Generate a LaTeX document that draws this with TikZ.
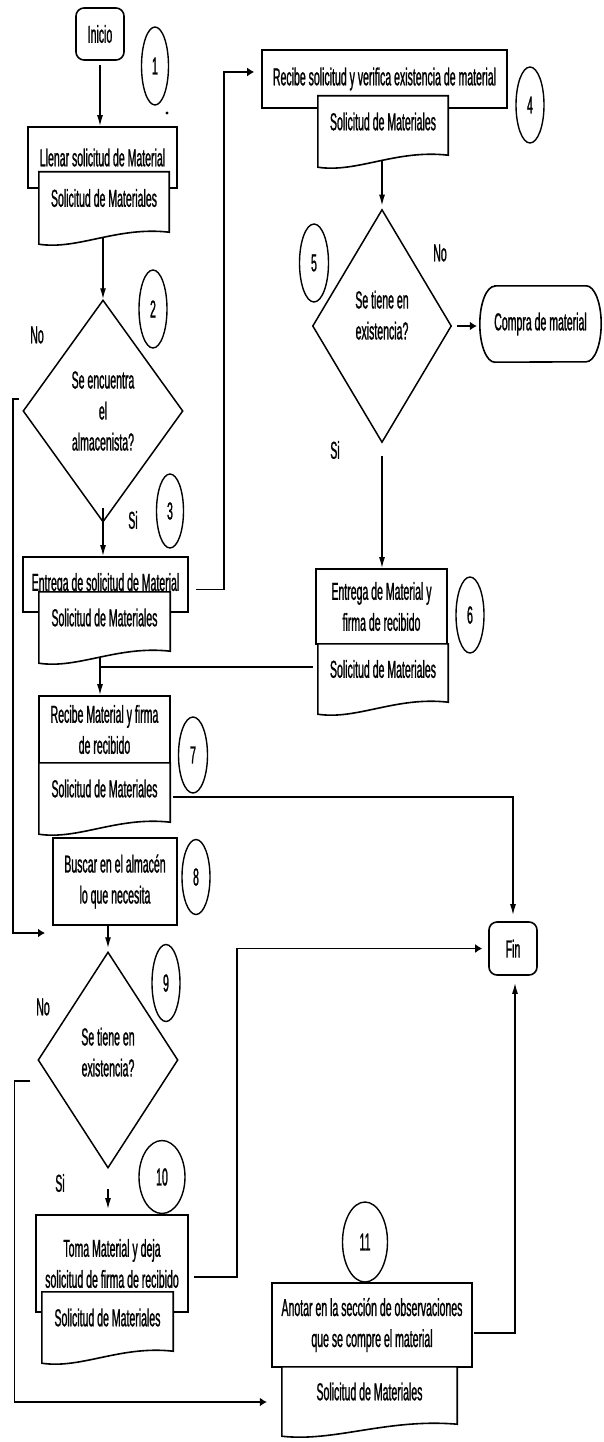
\documentclass[tikz,border=0pt]{standalone}
\usepackage{fontspec}
\setmainfont{Liberation Sans}[FakeStretch=0.43,FakeBold=1]
\usetikzlibrary{arrows.meta,shapes.geometric,calc}
\tikzset{
  base/.style={font=\fontsize{24.5}{31}\selectfont, align=center, inner sep=1pt},
  proc/.style={base, draw, fill=white, line width=1.6pt},
  term/.style={base, draw, rounded corners=8pt, line width=1.6pt},
  dec/.style={base, diamond, draw, line width=1.5pt, inner sep=0pt},
  num/.style={base, ellipse, draw, line width=1.4pt, inner sep=0pt},
  docn/.style={base, inner sep=0pt},
  docline/.style={draw, fill=white, line width=1.6pt},
  shapeline/.style={draw, line width=1.6pt},
  lbl/.style={base},
  conn/.style={line width=1.4pt},
  varr/.style={conn, -{Latex[length=11pt,width=6pt]}},
  harr/.style={conn, -{Latex[length=7pt,width=9pt]}}
}
\newcommand\docpath[1]{\draw[docline] (#1.north west) -- (#1.north east) -- ([yshift=6pt]#1.south east) .. controls ($(#1.south west)!0.6!(#1.south east)+(0pt,12pt)$) and ($(#1.south west)!0.3!(#1.south east)+(0pt,-12pt)$) .. ([yshift=-6pt]#1.south west) -- cycle;}
\begin{document}
\begin{tikzpicture}[x=1pt,y=-1pt]
\useasboundingbox (0,0) rectangle (603,1442);
\fill[white] (0,0) rectangle (603,1442);

% ---------- left column top ----------
\node[term, minimum width=48pt, minimum height=52pt] (inicio) at (100,34) {Inicio};
\node[num, minimum width=27pt, minimum height=78pt] (c1) at (155,66) {1};
\fill (167,113) circle (1.6pt);

\node[proc, minimum width=149pt, minimum height=61pt] (llenar) at (102.5,157.5) {Llenar solicitud de Material};
\node[docn, minimum width=130pt, minimum height=66pt] (doc1) at (104,205) {};
\docpath{doc1}
\node[base] (doc1t) at ([yshift=7pt]doc1.center) {Solicitud de Materiales};

\node[dec, aspect=0.72, minimum width=160pt, minimum height=222pt] (d2) at (103,411) {Se encuentra\\el\\almacenista?};
\node[num, minimum width=28pt, minimum height=78pt] (c2) at (153,309) {2};
\node[lbl] (no2) at (37,335) {No};
\node[lbl] (si2) at (133,520) {Si};
\node[num, minimum width=27pt, minimum height=74pt] (c3) at (170,511) {3};

\node[proc, minimum width=165pt, minimum height=55pt] (entrega) at (105.5,584.5) {Entrega de solicitud de Material};
\node[docn, minimum width=131pt, minimum height=65pt] (doc3) at (104.5,624.5) {};
\docpath{doc3}
\node[base] (doc3t) at ([yshift=7pt]doc3.center) {Solicitud de Materiales};

\node[proc, minimum width=131pt, minimum height=67pt] (box7) at (104.5,729.5) {Recibe Material y firma\\de recibido};
\node[docn, minimum width=131pt, minimum height=65pt] (doc7) at (104.5,795.5) {};
\docpath{doc7}
\node[base] (doc7t) at ([yshift=7pt]doc7.center) {Solicitud de Materiales};
\node[num, minimum width=29pt, minimum height=76pt] (c7) at (193,755) {7};

\node[proc, minimum width=124pt, minimum height=87pt] (box8) at (115,881.5) {Buscar en el almac\'en\\lo que necesita};
\node[num, minimum width=28pt, minimum height=75pt] (c8) at (196,877) {8};

\node[dec, aspect=0.65, minimum width=140pt, minimum height=216pt, text depth=16pt] (d9) at (108,1060) {Se tiene en\\existencia?};
\node[num, minimum width=28pt, minimum height=77pt] (c9) at (166,983) {9};
\node[lbl] (no9) at (43,1007) {No};
\node[lbl] (si9) at (60,1183) {Si};

\node[proc, minimum width=152pt, minimum height=97pt] (box10) at (112,1263.5) {Toma Material y deja\\solicitud de firma de recibido};
\node[docn, minimum width=131pt, minimum height=65pt] (doc10) at (107.5,1324.5) {};
\docpath{doc10}
\node[base] (doc10t) at ([yshift=7pt]doc10.center) {Solicitud de Materiales};
\node[num, minimum width=46pt, minimum height=73pt] (c10) at (162,1177) {10};

% ---------- right column ----------
\node[proc, minimum width=245pt, minimum height=58pt] (box4) at (384.5,79) {Recibe solicitud y verifica existencia de material};
\node[docn, minimum width=130pt, minimum height=65pt] (doc4) at (383,128.5) {};
\docpath{doc4}
\node[base] (doc4t) at ([yshift=7pt]doc4.center) {Solicitud de Materiales};
\node[num, minimum width=28pt, minimum height=76pt] (c4) at (530,105) {4};

\node[dec, aspect=0.6, minimum width=139pt, minimum height=233pt, text depth=22pt] (d5) at (382,326) {Se tiene en\\existencia?};
\node[num, minimum width=29pt, minimum height=78pt] (c5) at (314,263) {5};
\node[lbl] (no5) at (440,253) {No};
\node[lbl] (si5) at (335,450) {Si};

\node[base, minimum width=121pt, minimum height=76pt] (compra) at (540.5,324) {Compra de material};
\draw[shapeline] ([xshift=15pt]compra.north west) -- ([xshift=-15pt]compra.north east)
  arc[start angle=90, end angle=-90, x radius=15pt, y radius=38pt]
  -- ([xshift=15pt]compra.south west)
  arc[start angle=270, end angle=90, x radius=15pt, y radius=38pt] -- cycle;

\node[proc, minimum width=131pt, minimum height=75pt] (box6) at (381.5,606.5) {Entrega de Material y\\firma de recibido};
\node[docn, minimum width=130pt, minimum height=64pt] (doc6) at (383,676) {};
\docpath{doc6}
\node[base] (doc6t) at ([yshift=7pt]doc6.center) {Solicitud de Materiales};
\node[num, minimum width=28pt, minimum height=76pt] (c6) at (470,615) {6};

\node[term, minimum width=48pt, minimum height=53pt] (fin) at (513,948.5) {Fin};

\node[proc, minimum width=200pt, minimum height=84pt] (box11) at (372,1325) {Anotar en la secci\'on de observaciones\\que se compre el material};
\node[docn, minimum width=175pt, minimum height=63pt] (doc11) at (369.5,1398.5) {};
\docpath{doc11}
\node[base] (doc11t) at ([yshift=7pt]doc11.center) {Solicitud de Materiales};
\node[num, minimum width=45pt, minimum height=80pt] (c11) at (365,1242) {11};

% ---------- connectors ----------
\draw[varr, shorten <=4pt] (inicio.south) -- (inicio.south |- llenar.north);
\draw[varr] (doc1.south -| d2.north) -- (d2.north);

\coordinate (no2end) at (45,933);
\draw[harr] ([shift={(-3,-12)}]d2.west) -| ([xshift=-32pt]no2end) -- (no2end);

\draw[varr] ([yshift=15pt]d2.south) -- (d2.south |- entrega.north);
\draw[harr] ([shift={(7,5)}]entrega.east) -- ++(28,0) |- ([shift={(-7,-7)}]box4.west);

\draw[varr, shorten >=3pt] (doc4.south -| d5.north) -- (d5.north);
\draw[harr, shorten <=5pt, shorten >=3pt] (d5.east) -- (d5.east -| compra.west);
\draw[varr] ([yshift=-13pt]d5.south) -- (d5.south |- box6.north);

\coordinate (j7) at (100,667);
\draw[conn] ([shift={(-5,-9)}]doc6.west) -- (j7);
\draw[conn] (doc3.south -| j7) -- (j7);
\draw[varr] (j7) -- (j7 |- box7.north);

\draw[varr, shorten >=6pt] ([shift={(3,1.5)}]doc7.east) -| (fin.north);

\draw[varr, shorten >=3pt] (box8.south -| d9.north) -- (d9.north);
\draw[harr] ([shift={(-7,21)}]d9.west) -- ++(-16,0) |- ([shift={(-15,3.5)}]doc11.west);
\draw[varr, shorten <=20pt, shorten >=5pt] (d9.south) -- (d9.south |- box10.north);

\draw[harr, shorten >=6pt] ([shift={(5,13.5)}]box10.east) -- ++(43,0) |- (fin.west);
\draw[varr, shorten >=7pt] ([shift={(1,8)}]box11.east) -| ([xshift=2pt]fin.south);
\end{tikzpicture}
\end{document}
